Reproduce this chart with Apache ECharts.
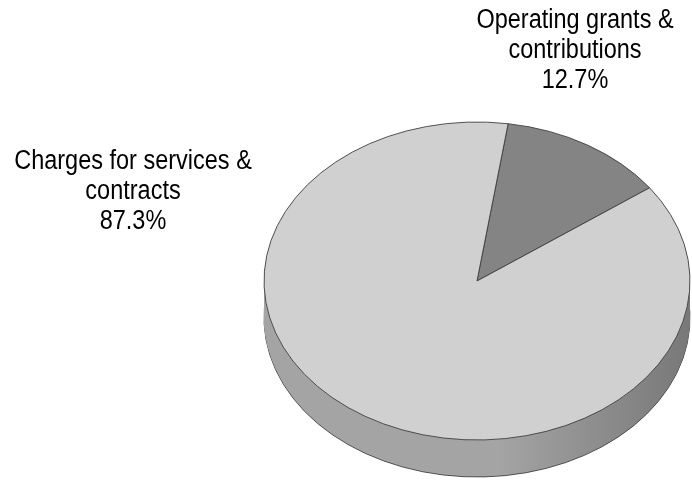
<!DOCTYPE html>
<html>
<head>
<meta charset="utf-8">
<script src="https://cdn.jsdelivr.net/npm/echarts@6/dist/echarts.min.js"></script>
<style>
  html, body { margin: 0; padding: 0; background: #fff; }
  #chart { width: 692px; height: 482px; }
</style>
</head>
<body>
<div id="chart"></div>
<script>
// slice data
const categories = ["Operating grants &\ncontributions", "Charges for services &\ncontracts"];
const shares = [12.7, 87.3];

const topColors = ["#848484", "#d0d0d0"];
const sideColors = [["#6e6e6e", "#5a5a5a"], ["#a4a4a4", "#787878"]];

// tilted pie geometry (pixels)
const cx = 477, cy = 281, rx = 213, ry = 159, depth = 37;
const startFromTop = 8.4;          // degrees clockwise from 12 o'clock
const labelPos = [[575, 51], [133, 192]];

const deg = Math.PI / 180;

const chart = echarts.init(document.getElementById("chart"));

chart.setOption({
    backgroundColor: "#fff",
    animation: false,
    series: [{
        type: "custom",
        coordinateSystem: "none",
        data: shares.map((v, i) => ({ name: categories[i], value: v })),
        renderItem(params, api) {
            const i = params.dataIndex;
            const total = shares.reduce((a, b) => a + b, 0);
            let before = 0;
            for (let j = 0; j < i; j++) before += shares[j];
            const a0 = (startFromTop + before / total * 360 - 90) * deg;
            const a1 = (startFromTop + (before + api.value(0)) / total * 360 - 90) * deg;
            const k = ry / rx;
            const shape = { cx: 0, cy: 0, r: rx, r0: 0, startAngle: a0, endAngle: a1, clockwise: true };

            const children = [];
            // side wall: stacked copies of the slice pushed downwards
            for (let d = depth; d > 0; d--) {
                children.push({
                    type: "sector",
                    x: cx, y: cy + d, scaleY: k,
                    shape: shape,
                    style: {
                        fill: new echarts.graphic.LinearGradient(0, 0, 1, 0, [
                            { offset: 0, color: sideColors[i][0] },
                            { offset: 0.55, color: sideColors[i][0] },
                            { offset: 1, color: sideColors[i][1] }
                        ]),
                        stroke: d === depth ? "#3c3c3c" : null,
                        lineWidth: 1,
                        strokeNoScale: true
                    },
                    z2: 1
                });
            }
            // top face
            children.push({
                type: "sector",
                x: cx, y: cy, scaleY: k,
                shape: shape,
                style: { fill: topColors[i], stroke: "#3c3c3c", lineWidth: 1, strokeNoScale: true },
                z2: 10
            });
            // label, squeezed to the narrow face used in the picture
            children.push({
                type: "text",
                x: labelPos[i][0], y: labelPos[i][1],
                scaleX: 0.87,
                style: {
                    text: categories[i] + "\n" + api.value(0).toFixed(1) + "%",
                    fontFamily: "'Liberation Sans', Arial, sans-serif",
                    fontSize: 27,
                    lineHeight: 30,
                    fill: "#000",
                    align: "center",
                    verticalAlign: "middle"
                },
                z2: 20
            });
            return { type: "group", children: children };
        }
    }]
});
</script>
</body>
</html>
